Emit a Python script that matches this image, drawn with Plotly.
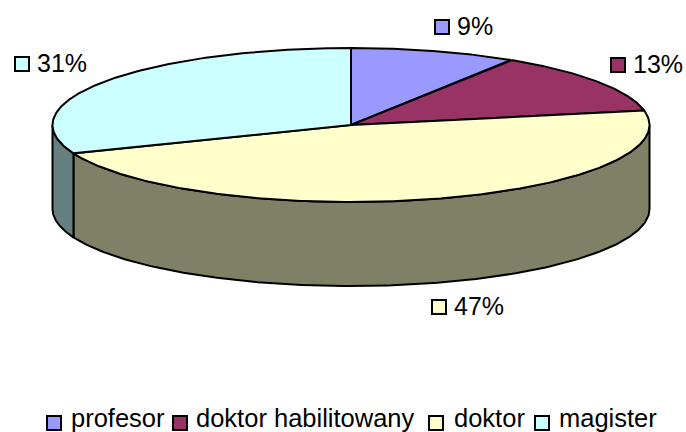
import numpy as np
import plotly.graph_objects as go

categories = ["profesor", "doktor habilitowany", "doktor", "magister"]
shares = [9, 13, 47, 31]
top_colors = ["#9999FF", "#993366", "#FFFFCC", "#CCFFFF"]
side_colors = ["#4D4D80", "#4D1A33", "#808066", "#668080"]

# pie drawn in pixel coordinates of the page
cx, cy = 351, 125
rx, ry = 298.5, 77
depth = 84
font = "Liberation Sans, Arial, sans-serif"

# swatch centre and text start of each data label / legend entry
label_pos = [(442, 27), (618, 65), (439, 307), (22, 64)]
legend_pos = [(54, 423), (180, 423), (436, 423), (542, 423)]
legend_text_x = [69, 194, 452, 557]


def arc(t0, t1, dy=0):
    t = np.radians(np.linspace(t0, t1, 200))
    return cx + rx * np.sin(t), cy - ry * np.cos(t) + dy


def poly(x, y, color):
    return go.Scatter(x=x, y=y, mode="lines", fill="toself", fillcolor=color,
                      line=dict(color="black", width=2), hoverinfo="skip",
                      showlegend=False)


fig = go.Figure()

edges = np.concatenate([[0], np.cumsum(shares)]) * 3.6

# walls: only the front half (90-270 deg) is visible
for i in range(len(shares)):
    t0, t1 = max(edges[i], 90), min(edges[i + 1], 270)
    if t0 >= t1:
        continue
    x1, y1 = arc(t0, t1)
    x2, y2 = arc(t1, t0, depth)
    fig.add_trace(poly(np.r_[x1, x2, x1[0]], np.r_[y1, y2, y1[0]], side_colors[i]))

# top face
for i in range(len(shares)):
    x, y = arc(edges[i], edges[i + 1])
    fig.add_trace(poly(np.r_[cx, x, cx], np.r_[cy, y, cy], top_colors[i]))

# swatches for data labels and legend
for pos in (label_pos, legend_pos):
    fig.add_trace(go.Scatter(
        x=[p[0] for p in pos], y=[p[1] for p in pos], mode="markers",
        marker=dict(symbol="square", size=14, color=top_colors,
                    line=dict(color="black", width=2)),
        hoverinfo="skip", showlegend=False, cliponaxis=False))

for share, (x, y) in zip(shares, label_pos):
    fig.add_annotation(x=x + 13, y=y - 1, text=f"{share}%", showarrow=False,
                       xanchor="left", yanchor="middle",
                       font=dict(family=font, size=25, color="black"))

for name, tx, (x, y) in zip(categories, legend_text_x, legend_pos):
    fig.add_annotation(x=tx, y=y - 5, text=name, showarrow=False,
                       xanchor="left", yanchor="middle",
                       font=dict(family=font, size=25.5, color="black"))

fig.update_xaxes(range=[0, 686], visible=False, fixedrange=True)
fig.update_yaxes(range=[432, 0], visible=False, fixedrange=True)
fig.update_layout(width=686, height=432, margin=dict(l=0, r=0, t=0, b=0),
                  paper_bgcolor="white", plot_bgcolor="white")

# page body has a default margin that would push the chart off the window
fig.write_html("out.html", config=dict(displayModeBar=False),
               post_script="document.body.style.margin='0';")
